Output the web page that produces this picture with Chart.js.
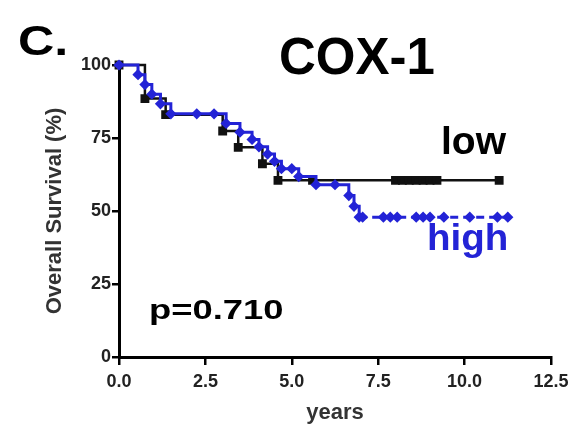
<!DOCTYPE html>
<html lang="en">
<head>
<meta charset="UTF-8">
<title>COX-1 survival</title>
<script src="https://cdn.jsdelivr.net/npm/chart.js"></script>
<style>
    body {
        margin: 0;
        background: #fff;
        font-family: "Liberation Sans", Arial, sans-serif;
    }
    .wrap {
        position: relative;
        width: 575px;
        height: 426px;
    }
    .note {
        position: absolute;
        font-weight: bold;
        line-height: 1;
        white-space: nowrap;
        transform-origin: left top;
    }
</style>
</head>
<body>
<div class="wrap">
    <canvas id="kmChart" width="575" height="426"></canvas>
    <div class="note" style="left:18px; top:19px; font-size:43px; transform:scaleX(1.17);">C.</div>
    <div class="note" style="left:279px; top:31px; font-size:51px;">COX-1</div>
    <div class="note" style="left:441px; top:121px; font-size:39px;">low</div>
    <div class="note" style="left:427px; top:220px; font-size:36px; color:#2323d6; transform:scaleX(1.07);">high</div>
    <div class="note" style="left:149px; top:296px; font-size:28px; transform:scaleX(1.3);">p=0.710</div>
</div>

<script>
    // survival curves (years, % surviving)
    const lowYears = [0, 0.75, 1.35, 3.0, 3.45, 4.15, 4.6, 5.6, 8.0, 8.2, 8.4, 8.6, 8.8, 9.0, 9.2, 11.0];
    const lowSurv  = [100, 88.5, 83, 77.4, 71.8, 66.2, 60.5, 60.5, 60.5, 60.5, 60.5, 60.5, 60.5, 60.5, 60.5, 60.5];

    const highYears = [0, 0.55, 0.75, 0.95, 1.2, 1.5, 2.25, 2.75, 3.1, 3.5, 3.85, 4.05, 4.3, 4.5, 4.7, 5.0, 5.2,
                       5.7, 6.25, 6.65, 6.8, 6.95, 7.05, 7.65, 7.85, 8.05, 8.6, 8.8, 9.0, 9.4, 10.15, 10.95, 11.25];
    const highSurv  = [100, 96.7, 93.3, 90, 86.7, 83.3, 83.3, 83.3, 80, 77, 74.5, 72, 69.5, 67, 64.5, 64.5, 61.8,
                       59, 59, 55.3, 51.6, 47.9, 47.9, 47.9, 47.9, 47.9, 47.9, 47.9, 47.9, 47.9, 47.9, 47.9, 47.9];

    const xTicks = [0, 2.5, 5, 7.5, 10, 12.5];
    const yTicks = [0, 25, 50, 75, 100];

    const toPoints = (xs, ys) => xs.map((x, i) => ({ x: x, y: ys[i] }));

    const tickFont = { family: '"Liberation Sans", Arial, sans-serif', size: 18, weight: 'bold' };

    new Chart(document.getElementById('kmChart'), {
        type: 'line',
        data: {
            datasets: [
                {
                    label: 'high',
                    data: toPoints(highYears, highSurv),
                    stepped: 'before',
                    borderColor: '#2323d6',
                    backgroundColor: '#2323d6',
                    borderWidth: 3,
                    pointStyle: 'rectRot',
                    pointRadius: 3.5,
                    clip: false,
                    segment: {
                        // tail after the last drop looks dashed in the original
                        borderDash: ctx => ctx.p0.parsed.x >= 6.9 ? [8, 5] : undefined
                    }
                },
                {
                    label: 'low',
                    data: toPoints(lowYears, lowSurv),
                    stepped: 'before',
                    borderColor: '#111',
                    backgroundColor: '#111',
                    borderWidth: 2.5,
                    pointStyle: 'rect',
                    pointRadius: 4.5,
                    clip: false
                }
            ]
        },
        options: {
            responsive: false,
            animation: false,
            devicePixelRatio: 1,
            layout: { padding: { left: 0, right: 24, top: 65, bottom: 0 } },
            plugins: {
                legend: { display: false },
                tooltip: { enabled: false }
            },
            scales: {
                x: {
                    type: 'linear',
                    min: 0,
                    max: 12.5,
                    afterBuildTicks: s => { s.ticks = xTicks.map(v => ({ value: v })); },
                    afterFit: s => { s.height = 69; },
                    border: { display: true, color: '#000', width: 3 },
                    grid: { drawOnChartArea: false, color: '#000', lineWidth: 2.5, tickLength: 8 },
                    ticks: {
                        color: '#222',
                        font: tickFont,
                        padding: 6,
                        maxRotation: 0,
                        callback: v => v.toFixed(1)
                    },
                    title: {
                        display: true,
                        text: 'years',
                        color: '#333',
                        font: { family: '"Liberation Sans", Arial, sans-serif', size: 22, weight: 'bold', lineHeight: 1 },
                        padding: { top: 0, bottom: 2 }
                    }
                },
                y: {
                    min: 0,
                    max: 100,
                    afterBuildTicks: s => { s.ticks = yTicks.map(v => ({ value: v })); },
                    afterFit: s => { s.width = 119; },
                    border: { display: true, color: '#000', width: 3 },
                    grid: { drawOnChartArea: false, color: '#000', lineWidth: 2.5, tickLength: 7 },
                    ticks: {
                        color: '#222',
                        font: tickFont,
                        padding: 1
                    },
                    title: {
                        display: true,
                        text: 'Overall Survival (%)',
                        color: '#333',
                        font: { family: '"Liberation Sans", Arial, sans-serif', size: 22, weight: 'bold' },
                        padding: { top: 42, bottom: 0 }
                    }
                }
            }
        }
    });
</script>
</body>
</html>
